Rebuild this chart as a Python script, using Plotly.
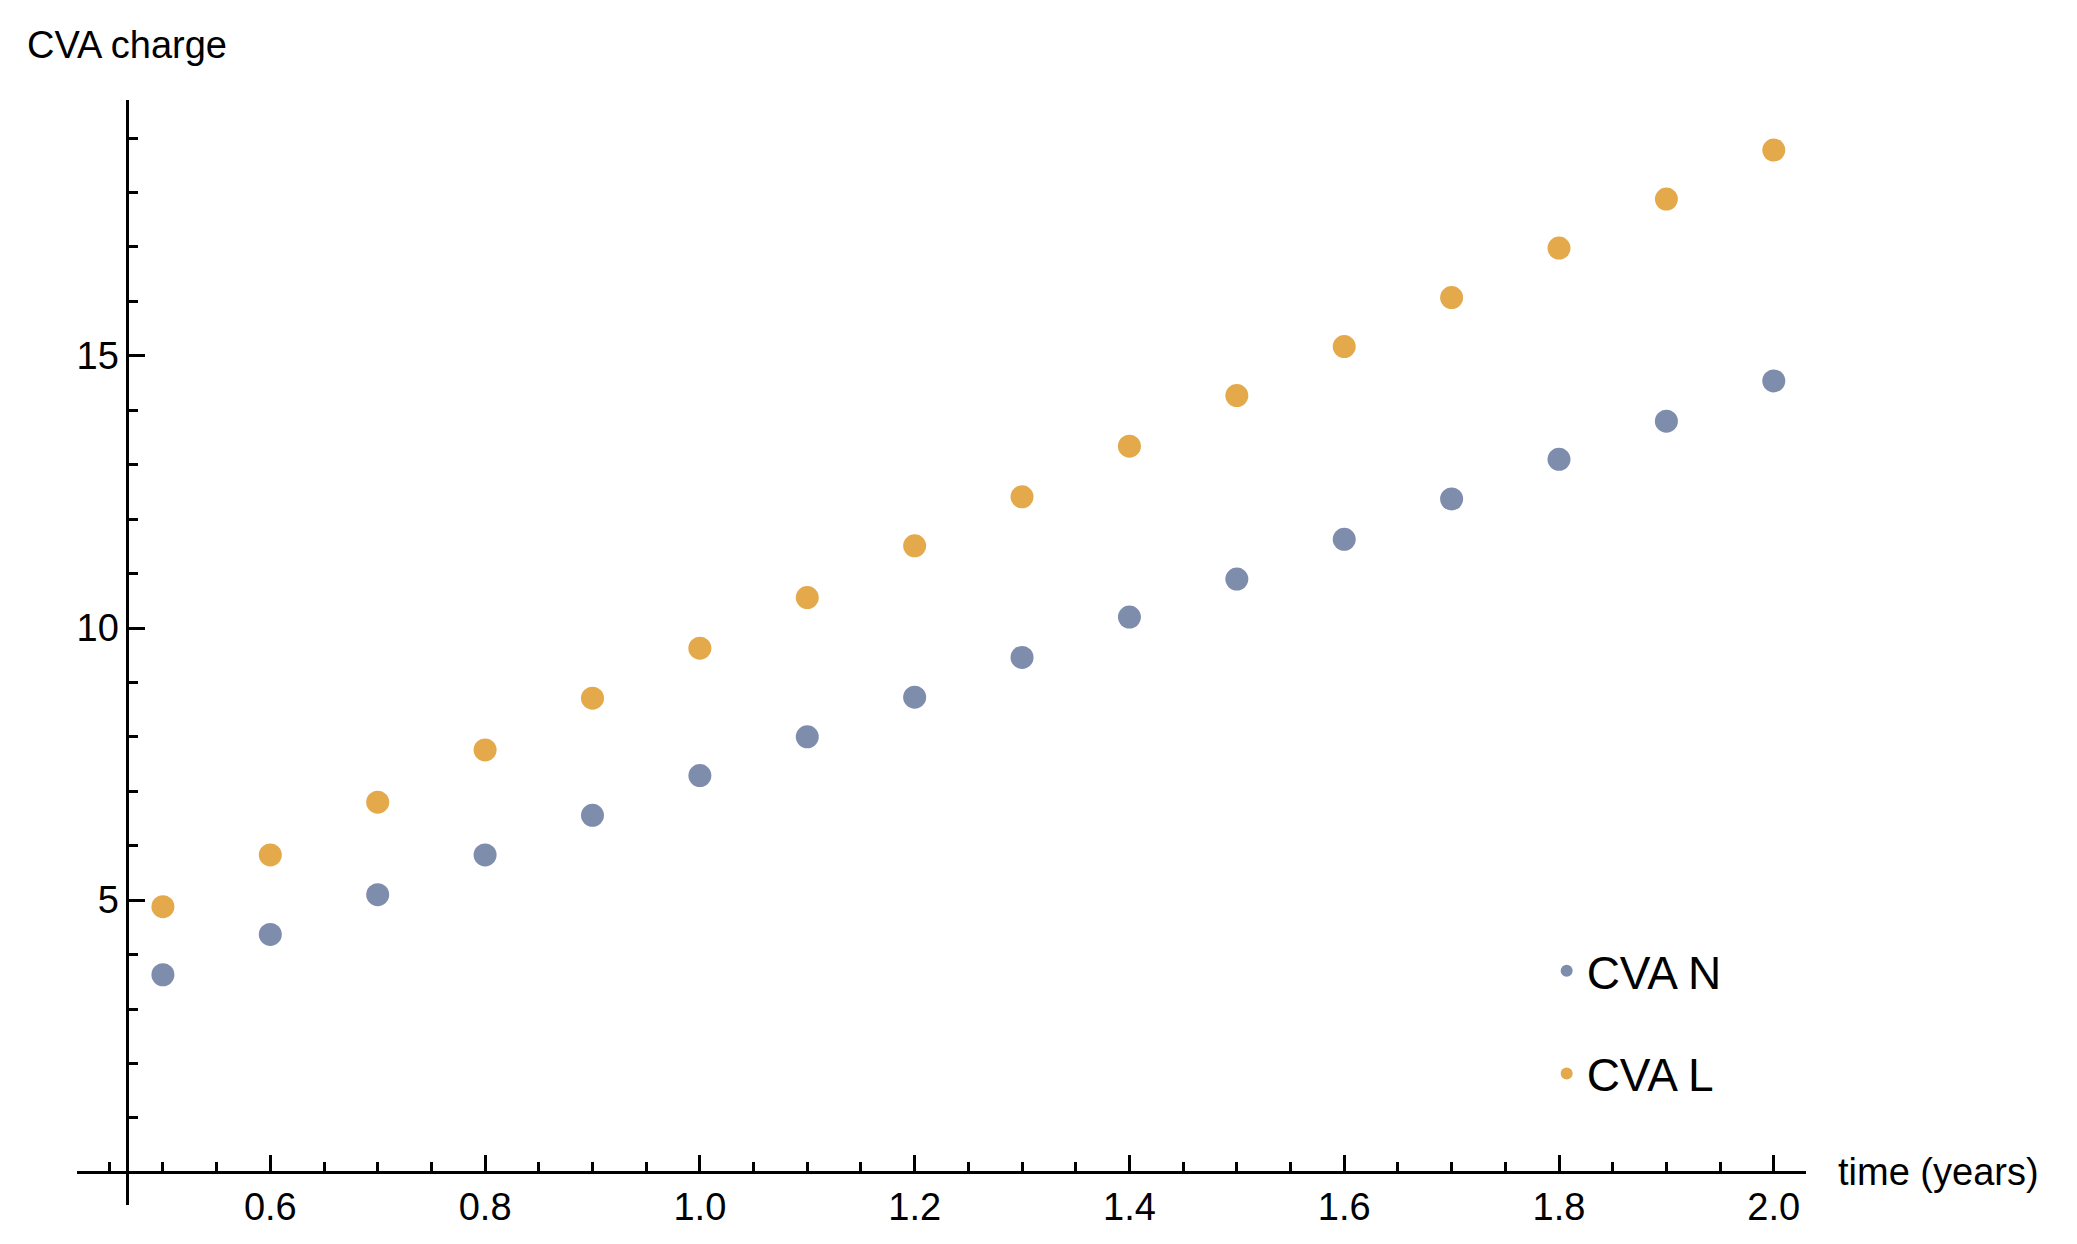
import plotly.graph_objects as go

t = [0.5, 0.6, 0.7, 0.8, 0.9, 1.0, 1.1, 1.2, 1.3, 1.4, 1.5, 1.6, 1.7, 1.8, 1.9, 2.0]
cva_n = [3.63, 4.37, 5.10, 5.83, 6.56, 7.29, 8.00, 8.73, 9.46, 10.20, 10.90, 11.63, 12.37, 13.10, 13.80, 14.54]
cva_l = [4.88, 5.83, 6.80, 7.76, 8.71, 9.63, 10.56, 11.51, 12.41, 13.34, 14.27, 15.17, 16.07, 16.98, 17.88, 18.78]

xr = [0.42, 2.03]
yr = [-0.6, 19.7]

fig = go.Figure()
fig.add_trace(go.Scatter(x=t, y=cva_n, mode="markers", name="CVA N", legendgroup="n",
                         marker=dict(size=23, color="#7F8DAD")))
fig.add_trace(go.Scatter(x=t, y=cva_l, mode="markers", name="CVA L", legendgroup="l",
                         marker=dict(size=23, color="#E3A94B")))

font = dict(family="Liberation Sans, Arial", size=38, color="black")
fig.update_layout(
    width=2077, height=1244, plot_bgcolor="white", paper_bgcolor="white",
    margin=dict(l=69, r=279, t=92, b=47),
    font=font,
    xaxis=dict(range=xr, anchor="free", position=(0 - yr[0]) / (yr[1] - yr[0]),
               showline=True, linecolor="black", linewidth=3, showgrid=False, zeroline=False,
               tickvals=[0.6, 0.8, 1.0, 1.2, 1.4, 1.6, 1.8, 2.0], ticktext=["0.6", "0.8", "1.0", "1.2", "1.4", "1.6", "1.8", "2.0"],
               ticks="inside", ticklen=16, tickwidth=3, tickcolor="black",
               minor=dict(tickvals=[0.45, 0.5, 0.55, 0.65, 0.7, 0.75, 0.85, 0.9, 0.95, 1.05, 1.1, 1.15, 1.25, 1.3, 1.35,
                                    1.45, 1.5, 1.55, 1.65, 1.7, 1.75, 1.85, 1.9, 1.95],
                          ticks="inside", ticklen=9, tickwidth=2.5, tickcolor="black")),
    yaxis=dict(range=yr, anchor="free", position=(0.467 - xr[0]) / (xr[1] - xr[0]),
               showline=True, linecolor="black", linewidth=3, showgrid=False, zeroline=False,
               tickvals=[5, 10, 15], ticks="inside", ticklen=16, tickwidth=3, tickcolor="black",
               minor=dict(tickvals=[1, 2, 3, 4, 6, 7, 8, 9, 11, 12, 13, 14, 16, 17, 18, 19],
                          ticks="inside", ticklen=9, tickwidth=2.5, tickcolor="black")),
    legend=dict(x=0.85, y=0.245, xanchor="left", yanchor="top", bgcolor="rgba(0,0,0,0)",
                font=dict(family="Liberation Sans, Arial", size=46), tracegroupgap=40,
                itemsizing="constant", itemwidth=30),
    showlegend=True,
)
fig.add_annotation(text="CVA charge", xref="paper", yref="paper", x=-0.03, y=1.0, yshift=55,
                   xanchor="left", yanchor="middle", showarrow=False, font=font)
fig.add_annotation(text="time (years)", xref="paper", yref="y", x=1.0, y=0, xshift=30,
                   xanchor="left", yanchor="middle", showarrow=False, font=font)

fig.write_html("out.html")
